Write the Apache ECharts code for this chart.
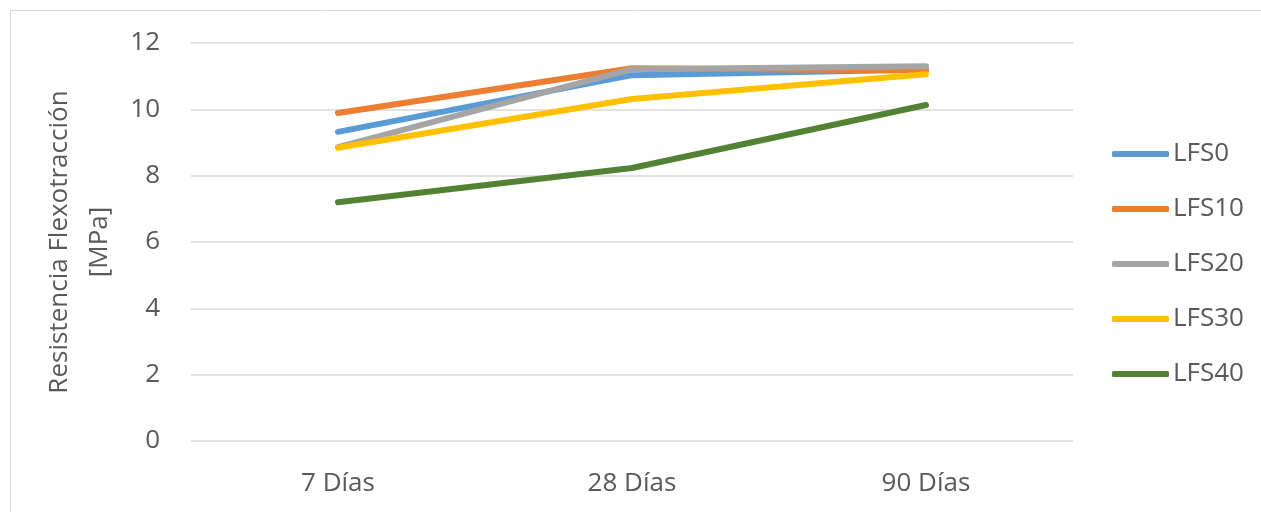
<!DOCTYPE html>
<html>
<head>
<meta charset="utf-8">
<script src="https://cdn.jsdelivr.net/npm/echarts@6/dist/echarts.min.js"></script>
<style>
  html, body { margin: 0; padding: 0; background: #fff; }
  #chart { width: 1261px; height: 512px; }
</style>
</head>
<body>
<div id="chart"></div>
<script>
const categories = ['7 Días', '28 Días', '90 Días']
const yTicks = { min: 0, max: 12, interval: 2 }

const lfs0 = [9.32, 11.03, 11.2]
const lfs10 = [9.89, 11.24, 11.17]
const lfs20 = [8.86, 11.21, 11.3]
const lfs30 = [8.84, 10.31, 11.06]
const lfs40 = [7.2, 8.23, 10.13]

const seriesList = [
  { name: 'LFS0', data: lfs0, color: '#5B9BD5' },
  { name: 'LFS10', data: lfs10, color: '#ED7D31' },
  { name: 'LFS20', data: lfs20, color: '#A5A5A5' },
  { name: 'LFS30', data: lfs30, color: '#FFC000' },
  { name: 'LFS40', data: lfs40, color: '#548235' }
]

const textColor = '#595959'
const font = '"Open Sans", sans-serif'

const chart = echarts.init(document.getElementById('chart'), null, { renderer: 'canvas' })

chart.setOption({
  backgroundColor: '#fff',
  animation: false,
  graphic: [{
    type: 'rect',
    shape: { x: 10.5, y: 10.5, width: 1400, height: 600 },
    style: { fill: 'none', stroke: '#D9D9D9', lineWidth: 1 },
    silent: true
  }],
  grid: { left: 191, right: 188, top: 43, bottom: 71 },
  legend: {
    orient: 'vertical',
    left: 1112,
    top: 141,
    padding: 0,
    itemWidth: 57,
    itemHeight: 6,
    itemGap: 29,
    icon: 'roundRect',
    textStyle: { color: textColor, fontSize: 26, fontFamily: font, padding: [0, 0, 0, -1] },
    data: seriesList.map((s) => s.name)
  },
  xAxis: {
    type: 'category',
    data: categories,
    boundaryGap: true,
    axisLine: { show: false },
    axisTick: { show: false },
    axisLabel: { color: textColor, fontSize: 26, fontFamily: font, margin: 30 }
  },
  yAxis: {
    type: 'value',
    min: yTicks.min,
    max: yTicks.max,
    interval: yTicks.interval,
    name: 'Resistencia Flexotracción\n[MPa]',
    nameLocation: 'middle',
    nameGap: 67,
    nameTextStyle: { color: textColor, fontSize: 26, fontFamily: font, lineHeight: 40 },
    axisLine: { show: false },
    axisTick: { show: false },
    splitLine: { lineStyle: { color: '#D9D9D9', width: 1.5 } },
    axisLabel: { color: textColor, fontSize: 26, fontFamily: font, margin: 31 }
  },
  series: seriesList.map((item) => ({
    name: item.name,
    type: 'line',
    data: item.data,
    symbol: 'none',
    lineStyle: { width: 6, color: item.color, cap: 'round', join: 'round' },
    itemStyle: { color: item.color }
  }))
})
</script>
</body>
</html>
